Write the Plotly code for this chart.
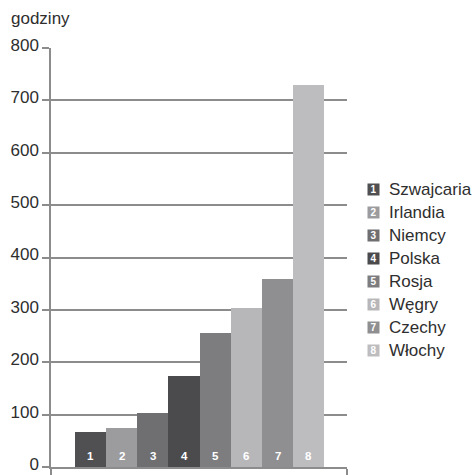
import plotly.graph_objects as go

countries = ["Szwajcaria", "Irlandia", "Niemcy", "Polska", "Rosja", "Węgry", "Czechy", "Włochy"]
numbers = ["1", "2", "3", "4", "5", "6", "7", "8"]
hours = [66, 74, 104, 174, 256, 303, 359, 729]
colors = ["#505052", "#9c9c9f", "#6f6f72", "#4b4b4e", "#7d7d80", "#b7b7ba", "#8f8f92", "#bdbdc0"]
y_ticks = [0, 100, 200, 300, 400, 500, 600, 700, 800]

W, H = 473, 475
L, R, T, B = 51, 126, 48, 8
pw, ph = W - L - R, H - T - B

FONT = "Liberation Sans, Arial, sans-serif"
TXT = "#2e2e2e"
GRID = "#8c8c8c"

xs = list(range(len(countries)))

fig = go.Figure()
fig.add_trace(go.Bar(
    x=xs, y=hours, width=1.0,
    marker=dict(color=colors, line=dict(width=0)),
    showlegend=False, hoverinfo="x+y",
))

def px2x(px):
    return (px - L) / pw

def py2y(py):
    return (H - B - py) / ph

annotations = []
# bar numbers at the base of each bar
for x, num in zip(xs, numbers):
    annotations.append(dict(
        text="<b>" + num + "</b>", x=x, y=0, xref="x", yref="y",
        xanchor="center", yanchor="middle", yshift=11, showarrow=False,
        font=dict(family=FONT, size=11.5, color="white"),
    ))
annotations.append(dict(
    text="godziny", x=px2x(9), y=py2y(18), xref="paper", yref="paper",
    xanchor="left", yanchor="middle", showarrow=False,
    font=dict(family=FONT, size=17, color=TXT),
))
row0, step = 189, 23.1
for i, (name, num, c) in enumerate(zip(countries, numbers, colors)):
    yc = row0 + i * step
    annotations.append(dict(
        text="<b>" + num + "</b>", x=px2x(373.5), y=py2y(yc), xref="paper", yref="paper",
        xanchor="center", yanchor="middle", showarrow=False,
        width=11, height=11, bgcolor=c, borderpad=0,
        font=dict(family=FONT, size=10, color="white"),
    ))
    annotations.append(dict(
        text=name, x=px2x(387), y=py2y(yc), xref="paper", yref="paper",
        xanchor="left", yanchor="middle", showarrow=False,
        font=dict(family=FONT, size=17, color=TXT),
    ))

fig.update_layout(
    width=W, height=H,
    margin=dict(l=L, r=R, t=T, b=B, pad=0, autoexpand=False),
    paper_bgcolor="white", plot_bgcolor="white",
    bargap=0,
    annotations=annotations,
    font=dict(family=FONT, color=TXT),
    xaxis=dict(
        range=[-1.27, 8.23], showgrid=False, zeroline=False, automargin=False,
        showline=True, linecolor=GRID, linewidth=1.5, layer="above traces",
        tickmode="array", tickvals=[-1.27, 8.23], ticktext=["", ""],
        ticks="outside", ticklen=10, tickcolor=GRID, tickwidth=1.5,
    ),
    yaxis=dict(
        range=[0, 800], tickmode="array", tickvals=y_ticks, automargin=False,
        ticktext=[str(v) for v in y_ticks], ticklabeloverflow="allow",
        ticklabelshift=-3,
        showgrid=True, gridcolor=GRID, gridwidth=1.5,
        zeroline=False, showline=True, linecolor=GRID, linewidth=1.5,
        ticks="outside", ticklen=7, tickcolor=GRID, tickwidth=1.5,
        tickfont=dict(family=FONT, size=17, color=TXT),
    ),
)

fig.write_html("out.html")
